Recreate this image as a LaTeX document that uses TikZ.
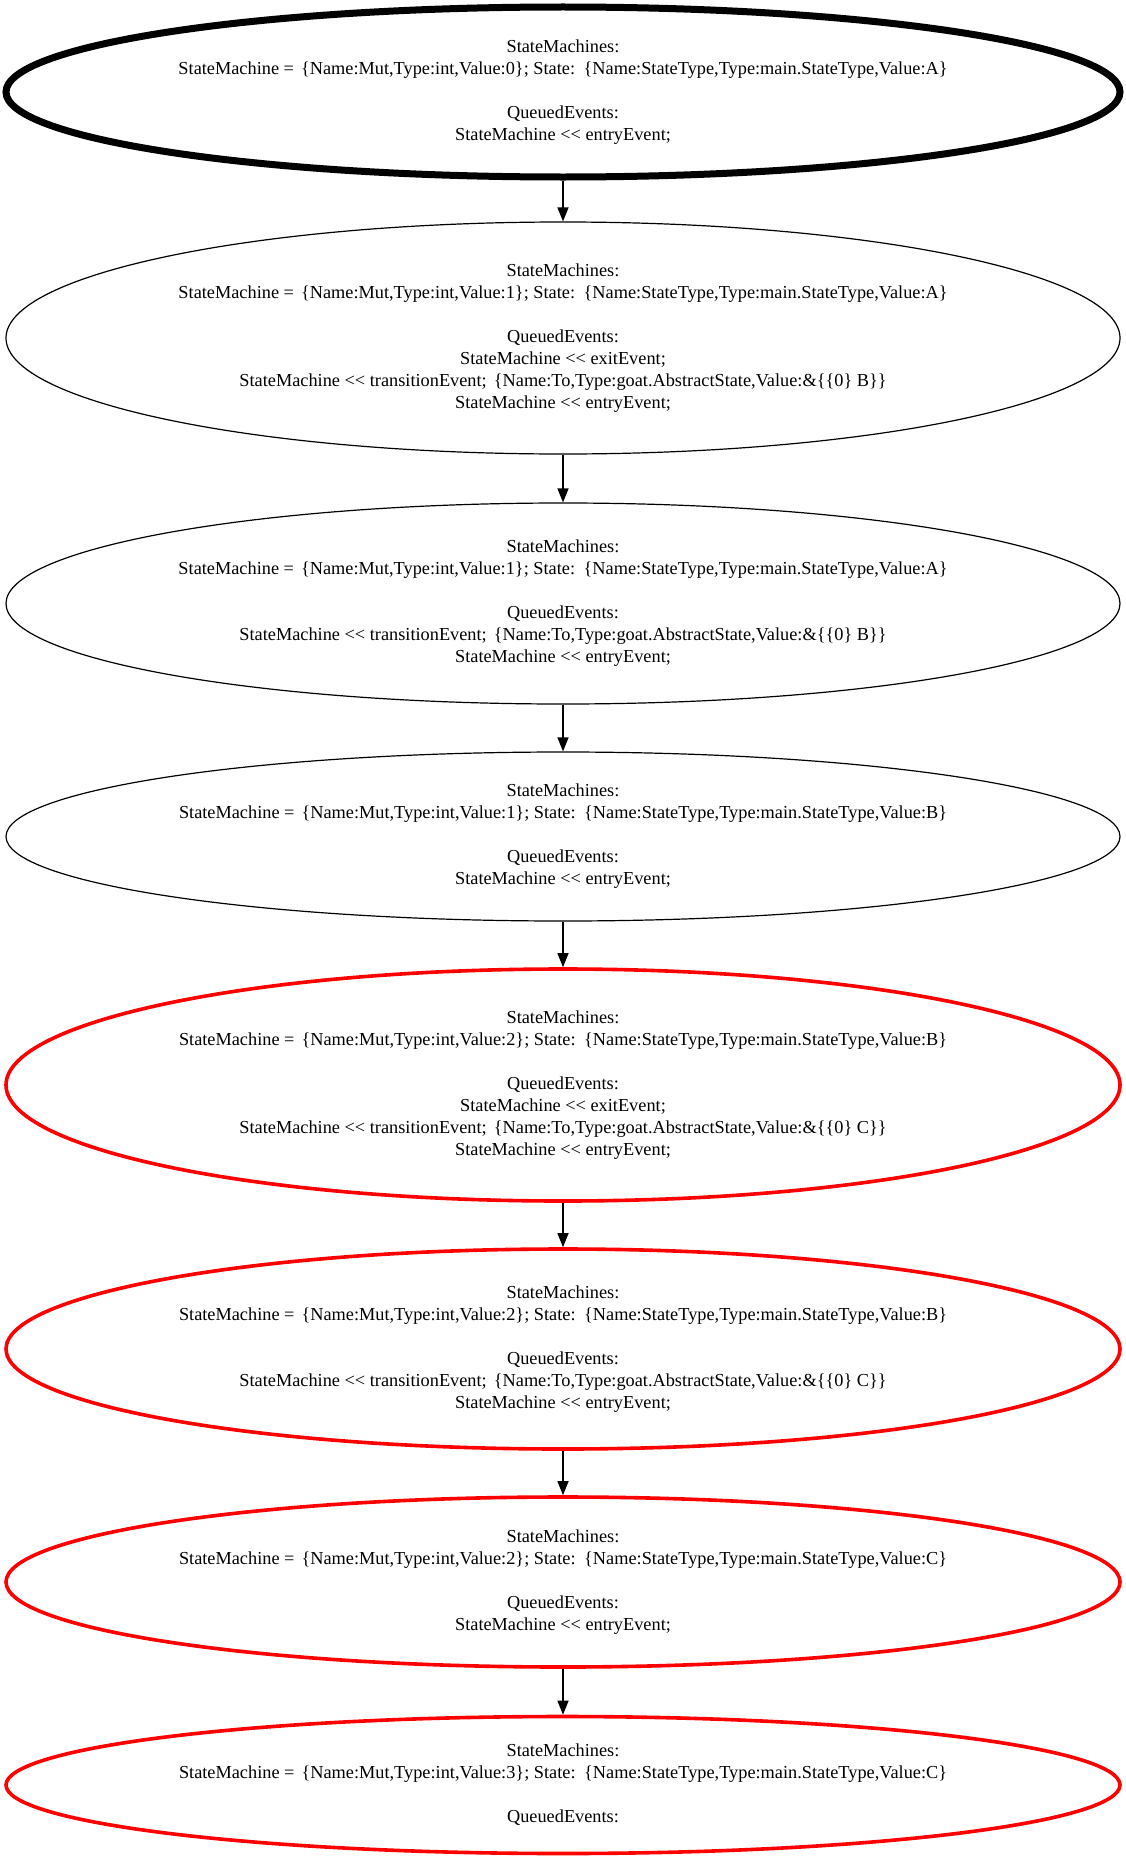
\documentclass[tikz,border=0pt]{standalone}
\usepackage{fontspec}
\setmainfont{Liberation Serif}
\usepackage{tikz}
\usetikzlibrary{shapes.geometric,arrows.meta}
\newcommand{\qpush}{<\kern0pt<}
\newcommand{\gap}{\kern2.5pt}
\begin{document}
\begin{tikzpicture}[x=1pt,y=1pt,
  every node/.style={font=\fontsize{18.3}{22}\selectfont},
  state/.style={ellipse,draw,line width=1.2pt,minimum width=1114pt,inner sep=0pt,align=center},
  initstate/.style={state,line width=7pt},
  redstate/.style={state,draw=red,line width=3.6pt},
  arr/.style={-{Triangle[length=14pt,width=11pt]},line width=1.2pt}]
\useasboundingbox (0,0) rectangle (1126,-1860);
\node[initstate,minimum height=170pt] (s1) at (563,-92) {StateMachines:\\
StateMachine = \gap\{Name:Mut,Type:int,Value:0\}; State: \gap\{Name:StateType,Type:main.StateType,Value:A\}\\[22pt]
QueuedEvents:\\
StateMachine \qpush{} entryEvent;};
\node[state,minimum height=232pt] (s2) at (563,-338) {StateMachines:\\
StateMachine = \gap\{Name:Mut,Type:int,Value:1\}; State: \gap\{Name:StateType,Type:main.StateType,Value:A\}\\[22pt]
QueuedEvents:\\
StateMachine \qpush{} exitEvent;\\
StateMachine \qpush{} transitionEvent; \gap\{Name:To,Type:goat.AbstractState,Value:\&\{\{0\} B\}\}\\
StateMachine \qpush{} entryEvent;};
\node[state,minimum height=201pt] (s3) at (563,-603.5) {StateMachines:\\
StateMachine = \gap\{Name:Mut,Type:int,Value:1\}; State: \gap\{Name:StateType,Type:main.StateType,Value:A\}\\[22pt]
QueuedEvents:\\
StateMachine \qpush{} transitionEvent; \gap\{Name:To,Type:goat.AbstractState,Value:\&\{\{0\} B\}\}\\
StateMachine \qpush{} entryEvent;};
\node[state,minimum height=169pt] (s4) at (563,-836.5) {StateMachines:\\
StateMachine = \gap\{Name:Mut,Type:int,Value:1\}; State: \gap\{Name:StateType,Type:main.StateType,Value:B\}\\[22pt]
QueuedEvents:\\
StateMachine \qpush{} entryEvent;};
\node[redstate,minimum height=232pt] (s5) at (563,-1085) {StateMachines:\\
StateMachine = \gap\{Name:Mut,Type:int,Value:2\}; State: \gap\{Name:StateType,Type:main.StateType,Value:B\}\\[22pt]
QueuedEvents:\\
StateMachine \qpush{} exitEvent;\\
StateMachine \qpush{} transitionEvent; \gap\{Name:To,Type:goat.AbstractState,Value:\&\{\{0\} C\}\}\\
StateMachine \qpush{} entryEvent;};
\node[redstate,minimum height=200pt] (s6) at (563,-1349) {StateMachines:\\
StateMachine = \gap\{Name:Mut,Type:int,Value:2\}; State: \gap\{Name:StateType,Type:main.StateType,Value:B\}\\[22pt]
QueuedEvents:\\
StateMachine \qpush{} transitionEvent; \gap\{Name:To,Type:goat.AbstractState,Value:\&\{\{0\} C\}\}\\
StateMachine \qpush{} entryEvent;};
\node[redstate,minimum height=170pt] (s7) at (563,-1582) {StateMachines:\\
StateMachine = \gap\{Name:Mut,Type:int,Value:2\}; State: \gap\{Name:StateType,Type:main.StateType,Value:C\}\\[22pt]
QueuedEvents:\\
StateMachine \qpush{} entryEvent;};
\node[redstate,minimum height=137pt] (s8) at (563,-1785) {StateMachines:\\
StateMachine = \gap\{Name:Mut,Type:int,Value:3\}; State: \gap\{Name:StateType,Type:main.StateType,Value:C\}\\[22pt]
QueuedEvents:};
\draw[arr] (s1) -- (s2);
\draw[arr] (s2) -- (s3);
\draw[arr] (s3) -- (s4);
\draw[arr] (s4) -- (s5);
\draw[arr] (s5) -- (s6);
\draw[arr] (s6) -- (s7);
\draw[arr] (s7) -- (s8);
\end{tikzpicture}
\end{document}
